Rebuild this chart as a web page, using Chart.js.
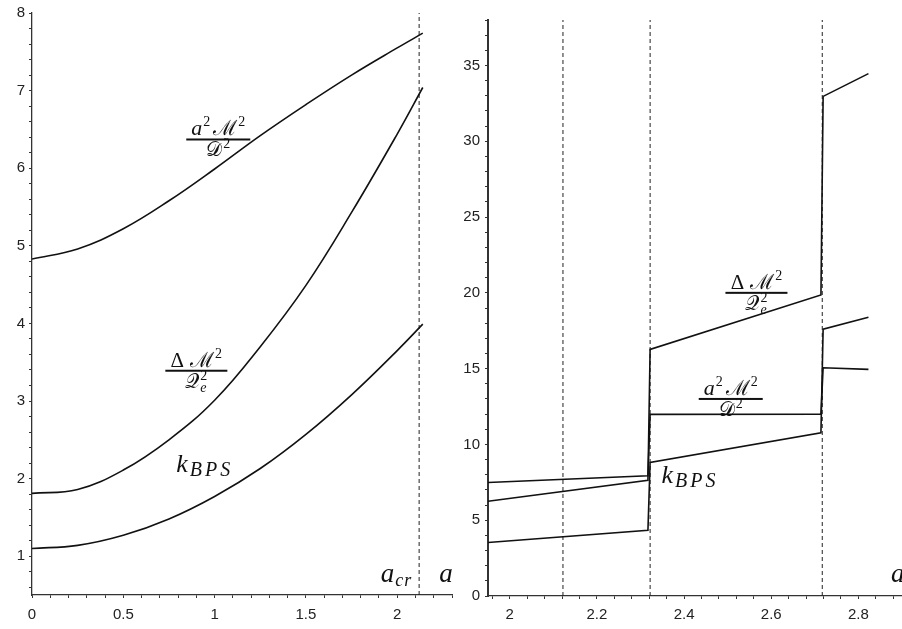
<!DOCTYPE html>
<html>
<head>
<meta charset="utf-8">
<script src="https://cdn.jsdelivr.net/npm/chart.js@4.4.1/dist/chart.umd.min.js"></script>
<style>
  html, body { margin: 0; padding: 0; background: #fff; }
  #wrap { position: relative; width: 902px; height: 629px; }
  canvas { position: absolute; top: 0; }
  #c1 { left: 0; }
  #c2 { left: 460px; }
</style>
</head>
<body>
<div id="wrap">
  <canvas id="c1" width="460" height="629"></canvas>
  <canvas id="c2" width="442" height="629"></canvas>
</div>
<script>
// left panel: 0 <= a <= a_cr
const aLeft = [0, 0.25, 0.5, 0.75, 1.0, 1.25, 1.5, 1.75, 2.0, 2.14];
const mLeft = [4.83, 4.96, 5.22, 5.58, 5.99, 6.42, 6.82, 7.20, 7.55, 7.74]; // a^2 M^2 / D^2
const dLeft = [1.81, 1.86, 2.11, 2.50, 3.01, 3.70, 4.49, 5.43, 6.44, 7.04]; // Delta M^2 / Q_e^2
const kLeft = [1.10, 1.14, 1.27, 1.48, 1.77, 2.13, 2.57, 3.08, 3.65, 3.99]; // k_BPS
const aCr = 2.12;

// right panel: branches with jumps
const aRight = [1.95, 2.317, 2.322, 2.714, 2.719, 2.823];
const dRight = [6.25, 7.64, 16.27, 19.86, 32.96, 34.46];
const mRight = [7.49, 7.93, 11.98, 12.0, 15.06, 14.95];
const kRight = [3.53, 4.34, 8.81, 10.77, 17.6, 18.39];
const aMarks = [2.122, 2.322, 2.717];

const INK = '#111';
const AXIS = '#333';
const tickFont = { family: '"Liberation Sans", Arial, sans-serif', size: 15 };

const pts = (xs, ys) => xs.map((x, i) => ({ x: x, y: ys[i] }));

function curve(xs, ys, smooth) {
  return {
    data: pts(xs, ys),
    borderColor: INK,
    borderWidth: 1.6,
    pointRadius: 0,
    showLine: true,
    tension: smooth ? 0.4 : 0
  };
}

function marker(x, y0, y1) {
  return {
    data: [{ x: x, y: y0 }, { x: x, y: y1 }],
    borderColor: '#222',
    borderWidth: 1,
    borderDash: [4, 3],
    pointRadius: 0,
    showLine: true
  };
}

const near = (v, step) => Math.abs(v / step - Math.round(v / step)) < 1e-6;
const fmt = v => String(Number(v.toFixed(2)));

function scaleOpts(min, max, step, major, width, height, pad, bw) {
  const o = {
    type: 'linear',
    min: min, max: max,
    grid: { drawOnChartArea: false, drawTicks: true, tickLength: 3, tickColor: AXIS, tickWidth: 1 },
    border: { display: true, color: AXIS, width: bw || 1.3 },
    ticks: {
      stepSize: step,
      includeBounds: false,
      autoSkip: false,
      maxRotation: 0,
      padding: pad,
      color: '#222',
      font: tickFont,
      callback: v => near(v, major) ? fmt(v) : ''
    }
  };
  if (width) o.afterFit = s => { s.width = width; };
  if (height) o.afterFit = s => { s.height = height; };
  return o;
}

// math text helpers
const it = s => `italic ${s}px "Liberation Serif", "DejaVu Serif", serif`;
const rm = s => `${s}px "Liberation Serif", "DejaVu Serif", serif`;

function runWidth(ctx, runs) {
  let w = 0;
  runs.forEach(r => { ctx.font = r.f; w += ctx.measureText(r.t).width + (r.sp || 0); });
  return w;
}

function drawRuns(ctx, runs, x, y) {
  runs.forEach(r => {
    ctx.font = r.f;
    ctx.fillText(r.t, x, y + (r.dy || 0));
    if (r.sub) { ctx.font = r.sub.f; ctx.fillText(r.sub.t, x + (r.sub.dx || 0), y + r.sub.dy); }
    x += ctx.measureText(r.t).width + (r.sp || 0);
  });
}

function fraction(ctx, cx, by, num, den, barW) {
  ctx.fillStyle = INK;
  ctx.textBaseline = 'alphabetic';
  ctx.textAlign = 'left';
  const nw = runWidth(ctx, num), dw = runWidth(ctx, den);
  drawRuns(ctx, num, cx - nw / 2, by - 4);
  drawRuns(ctx, den, cx - dw / 2, by + 17);
  ctx.fillRect(cx - barW / 2, by - 1, barW, 2);
}

const numAM = [
  { t: 'a', f: it(22), sp: 1 }, { t: '2', f: rm(14), dy: -9, sp: 3 },
  { t: '\u2133', f: rm(21), sp: 1 }, { t: '2', f: rm(14), dy: -9 }
];
const denD = [{ t: '\uD835\uDC9F', f: rm(20), sp: 1 }, { t: '2', f: rm(14), dy: -8 }];
const numDM = [
  { t: '\u0394', f: rm(21), sp: 6 },
  { t: '\u2133', f: rm(21), sp: 1 }, { t: '2', f: rm(14), dy: -9 }
];
const denQ = [{ t: '\uD835\uDCAC', f: rm(20), sp: 1 },
  { t: '2', f: rm(14), dy: -8, sub: { t: 'e', f: it(14), dy: 4 } }];

function kbps(ctx, x, y) {
  ctx.fillStyle = INK;
  ctx.textAlign = 'left';
  ctx.textBaseline = 'alphabetic';
  ctx.font = it(26);
  ctx.fillText('k', x, y);
  let sx = x + ctx.measureText('k').width + 2;
  ctx.font = it(20);
  ['B', 'P', 'S'].forEach(c => { ctx.fillText(c, sx, y + 4); sx += ctx.measureText(c).width + 3; });
}

function axisA(ctx, x, y, sub) {
  ctx.fillStyle = INK;
  ctx.textAlign = 'left';
  ctx.textBaseline = 'alphabetic';
  ctx.font = it(27);
  ctx.fillText('a', x, y);
  if (sub) {
    const w = ctx.measureText('a').width;
    ctx.font = it(18);
    ctx.fillText('c', x + w + 1, y + 4);
    ctx.fillText('r', x + w + 2 + ctx.measureText('c').width, y + 4);
  }
}

// label anchors are given in data units and placed through the chart's scales
const leftLabels = {
  id: 'leftLabels',
  afterDatasetsDraw(chart) {
    const { ctx, scales: { x, y } } = chart;
    ctx.save();
    fraction(ctx, x.getPixelForValue(1.02), y.getPixelForValue(6.37), numAM, denD, 64);
    fraction(ctx, x.getPixelForValue(0.90), y.getPixelForValue(3.39), numDM, denQ, 62);
    kbps(ctx, x.getPixelForValue(0.79), y.getPixelForValue(2.08));
    axisA(ctx, x.getPixelForValue(1.91), y.getPixelForValue(0.67), true);
    axisA(ctx, x.getPixelForValue(2.23), y.getPixelForValue(0.67), false);
    ctx.restore();
  }
};

const rightLabels = {
  id: 'rightLabels',
  afterDatasetsDraw(chart) {
    const { ctx, scales: { x, y } } = chart;
    ctx.save();
    fraction(ctx, x.getPixelForValue(2.566), y.getPixelForValue(20.0), numDM, denQ, 62);
    fraction(ctx, x.getPixelForValue(2.507), y.getPixelForValue(13.0), numAM, denD, 64);
    kbps(ctx, x.getPixelForValue(2.348), y.getPixelForValue(7.44));
    axisA(ctx, x.getPixelForValue(2.875), y.getPixelForValue(0.9), false);
    ctx.restore();
  }
};

const base = {
  responsive: false,
  animation: false,
  plugins: { legend: { display: false }, tooltip: { enabled: false } }
};

new Chart(document.getElementById('c1'), {
  type: 'scatter',
  data: {
    datasets: [
      curve(aLeft, mLeft, true),
      curve(aLeft, dLeft, true),
      curve(aLeft, kLeft, true),
      marker(aCr, 0.5, 8)
    ]
  },
  options: Object.assign({}, base, {
    layout: { padding: { left: 0, top: 10, right: 5, bottom: 0 } },
    scales: {
      x: scaleOpts(0, 2.3, 0.1, 0.5, null, 34, 8),
      y: scaleOpts(0.5, 8, 0.2, 1, 32, null, 4)
    }
  }),
  plugins: [leftLabels]
});

new Chart(document.getElementById('c2'), {
  type: 'scatter',
  data: {
    datasets: [
      curve(aRight, dRight, false),
      curve(aRight, mRight, false),
      curve(aRight, kRight, false),
      ...aMarks.map(a => marker(a, 0, 38))
    ]
  },
  options: Object.assign({}, base, {
    layout: { padding: { left: 0, top: 20, right: 0, bottom: 0 } },
    scales: {
      x: scaleOpts(1.95, 2.9, 0.04, 0.2, null, 33, 7),
      y: scaleOpts(0, 38, 1, 5, 28, null, 5, 2)
    }
  }),
  plugins: [rightLabels]
});
</script>
</body>
</html>
